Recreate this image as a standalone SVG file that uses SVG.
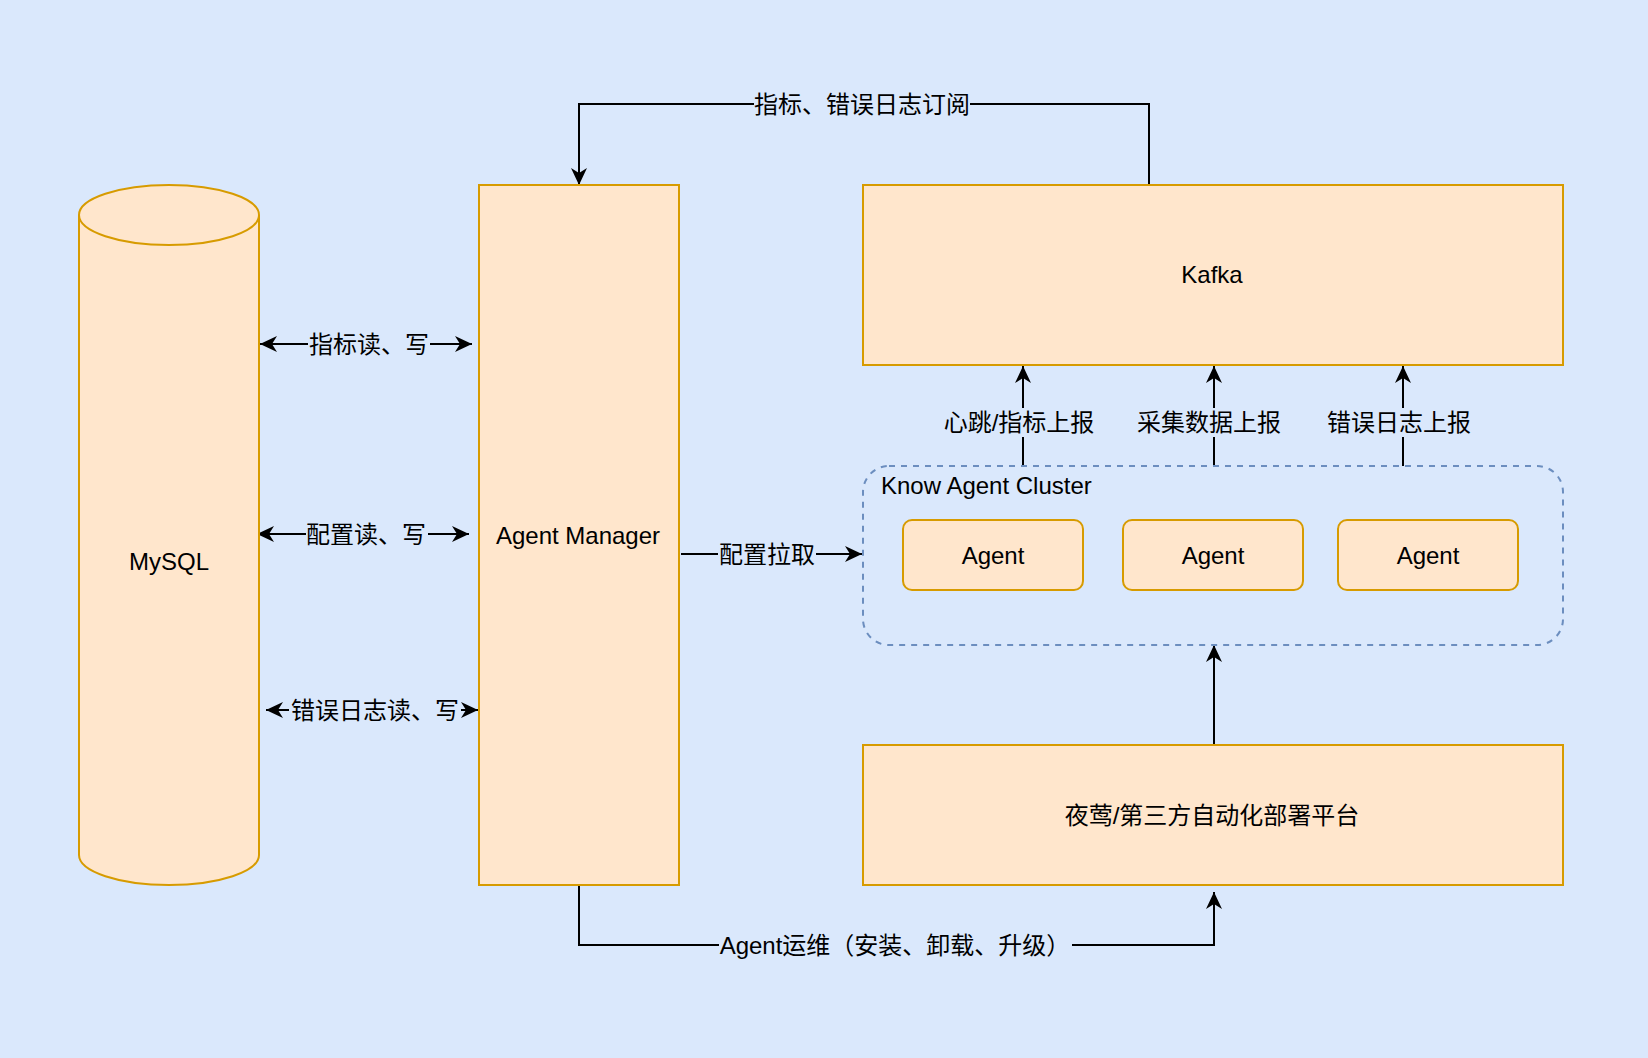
<svg xmlns="http://www.w3.org/2000/svg" width="1648" height="1058" viewBox="0 0 1648 1058">
<style>
.node{fill:#ffe6cc;stroke:#d79b00;stroke-width:2}
.cluster{fill:none;stroke:#6c8ebf;stroke-width:2;stroke-dasharray:6 6}
.edge{fill:none;stroke:#000;stroke-width:2}
.lbg{fill:#dae8fc}
text{font-family:"Liberation Sans","Noto Sans CJK SC",sans-serif;font-size:24px;fill:#000;text-anchor:middle;dominant-baseline:central}
</style>
<defs>
<marker id="arr" markerUnits="userSpaceOnUse" markerWidth="18" markerHeight="16" refX="17" refY="8" orient="auto-start-reverse" viewBox="0 0 18 16">
<path d="M0,0 L17,8 L0,16 L5,8 Z" fill="#000"/>
</marker>
</defs>
<rect width="1648" height="1058" fill="#dae8fc"/>
<g id="connectors">
<polyline class="edge" points="1149,185 1149,104 579,104 579,185" marker-end="url(#arr)"/>
<line class="edge" x1="260" y1="344" x2="472" y2="344" marker-start="url(#arr)" marker-end="url(#arr)"/>
<line class="edge" x1="257" y1="534" x2="469" y2="534" marker-start="url(#arr)" marker-end="url(#arr)"/>
<line class="edge" x1="266" y1="710" x2="478" y2="710" marker-start="url(#arr)" marker-end="url(#arr)"/>
<line class="edge" x1="681" y1="554" x2="862" y2="554" marker-end="url(#arr)"/>
<line class="edge" x1="1023" y1="466" x2="1023" y2="366" marker-end="url(#arr)"/>
<line class="edge" x1="1214" y1="466" x2="1214" y2="366" marker-end="url(#arr)"/>
<line class="edge" x1="1403" y1="466" x2="1403" y2="366" marker-end="url(#arr)"/>
<line class="edge" x1="1214" y1="745" x2="1214" y2="645" marker-end="url(#arr)"/>
<polyline class="edge" points="579,885 579,945 1214,945 1214,892" marker-end="url(#arr)"/>
<rect class="lbg" x="754" y="90" width="216" height="28"/>
<text x="862" y="104">指标、错误日志订阅</text>
<rect class="lbg" x="308" y="330" width="122" height="28"/>
<text x="369" y="344">指标读、写</text>
<rect class="lbg" x="306" y="520" width="122" height="28"/>
<text x="366" y="534">配置读、写</text>
<rect class="lbg" x="289" y="696" width="172" height="28"/>
<text x="375" y="710">错误日志读、写</text>
<rect class="lbg" x="718" y="540" width="98" height="28"/>
<text x="767" y="554">配置拉取</text>
<rect class="lbg" x="943" y="408" width="152" height="29"/>
<text x="1019" y="422">心跳/指标上报</text>
<rect class="lbg" x="1136" y="408" width="146" height="29"/>
<text x="1209" y="422">采集数据上报</text>
<rect class="lbg" x="1326" y="408" width="146" height="29"/>
<text x="1399" y="422">错误日志上报</text>
<rect class="lbg" x="719" y="931" width="353" height="28"/>
<text x="895" y="945">Agent运维（安装、卸载、升级）</text>
</g>
<g id="mysql">
<path class="node" d="M79,215 A90,30 0 0 1 259,215 L259,855 A90,30 0 0 1 79,855 Z"/>
<path class="node" style="fill:none" d="M79,215 A90,30 0 0 0 259,215"/>
<text x="169" y="561">MySQL</text>
</g>
<g id="agent-manager">
<rect class="node" x="479" y="185" width="200" height="700"/>
<text x="578" y="535">Agent Manager</text>
</g>
<g id="kafka">
<rect class="node" x="863" y="185" width="700" height="180"/>
<text x="1212" y="274">Kafka</text>
</g>
<g id="cluster">
<rect class="cluster" x="863" y="466" width="700" height="179" rx="26" ry="26"/>
<text x="881" y="485" style="text-anchor:start">Know Agent Cluster</text>
</g>
<g id="agent1">
<rect class="node" x="903" y="520" width="180" height="70" rx="9" ry="9"/>
<text x="993" y="555">Agent</text>
</g>
<g id="agent2">
<rect class="node" x="1123" y="520" width="180" height="70" rx="9" ry="9"/>
<text x="1213" y="555">Agent</text>
</g>
<g id="agent3">
<rect class="node" x="1338" y="520" width="180" height="70" rx="9" ry="9"/>
<text x="1428" y="555">Agent</text>
</g>
<g id="platform">
<rect class="node" x="863" y="745" width="700" height="140"/>
<text x="1212" y="815">夜莺/第三方自动化部署平台</text>
</g>
</svg>
